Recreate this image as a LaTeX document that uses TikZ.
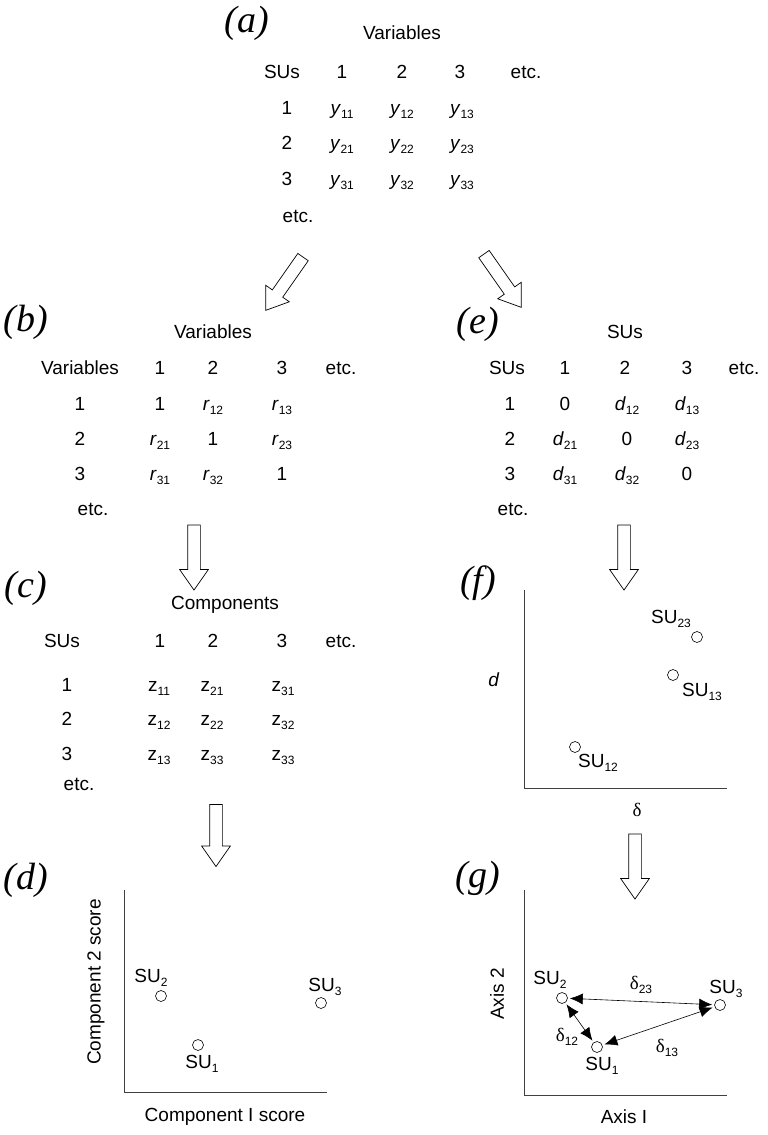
\documentclass[tikz,border=0pt]{standalone}
\usepackage{fontspec}
\setmainfont{Liberation Sans}
\newfontfamily\seriffont{Liberation Serif}
\usetikzlibrary{arrows.meta, positioning, shapes.arrows}

% lowered index and table entries
\newcommand{\sub}[1]{\raisebox{-4pt}{\fontsize{12}{12}\selectfont #1}}
\newcommand{\ent}[2]{\textit{#1}\sub{#2}}
\newcommand{\dl}{{\seriffont δ}}

\begin{document}
\begin{tikzpicture}[
    x=1pt, y=-1pt,
    every node/.style={font=\fontsize{19}{22}\selectfont, inner sep=1pt},
    cell/.style={anchor=base},
    panel/.style={font=\seriffont\itshape\fontsize{38}{40}\selectfont},
    bigarrow/.style={single arrow, draw, line width=0.7pt, fill=white, inner sep=6pt,
        single arrow head extend=8pt, single arrow tip angle=70, minimum height=65pt},
    axis/.style={draw=black!75, line width=0.8pt},
    su/.style={circle, draw, line width=0.6pt, minimum size=11pt, inner sep=0pt},
    dist/.style={{Latex[length=13pt,width=11pt]}-{Latex[length=13pt,width=11pt]},
        line width=0.6pt, shorten <=2pt, shorten >=2pt},
]
\useasboundingbox (0,0) rectangle (768,1135);

% === (a) raw data ===
\node[panel] (lab_a) at (247,23) {(a)};
\node[cell] (a_title) at (402,39) {Variables};
\node[cell] (a_hs) at (282,78) {SUs};
\foreach \c/\x in {1/342, 2/402, 3/460}
    \node[cell] (a_h\c) at (\x,78) {\c};
\node[cell] (a_hx) at (526,78) {etc.};
\foreach \r/\y in {1/114, 2/149, 3/185} {
    \node[cell] (a_r\r) at (287,\y) {\r};
    \foreach \c/\x in {1/342, 2/402, 3/462}
        \node[cell] (a_\r\c) at (\x,\y) {\ent{y}{\r\c}};
}
\node[cell] (a_rx) at (298,222) {etc.};

\node[bigarrow, rotate=-125] (arr_ab) at (287,280) {};
\node[bigarrow, rotate=-55] (arr_ae) at (500,277) {};

% === (b) correlations ===
\node[panel] (lab_b) at (26,322) {(b)};
\node[cell] (b_title) at (213,338) {Variables};
\node[cell] (b_hs) at (80,374) {Variables};
\foreach \c/\x in {1/160, 2/213, 3/282}
    \node[cell] (b_h\c) at (\x,374) {\c};
\node[cell] (b_hx) at (341,374) {etc.};
\foreach \r/\y/\ca/\cb/\cc in {1/410/1/\ent{r}{12}/\ent{r}{13},
                               2/445/\ent{r}{21}/1/\ent{r}{23},
                               3/480/\ent{r}{31}/\ent{r}{32}/1} {
    \node[cell] (b_r\r) at (80,\y) {\r};
    \node[cell] (b_\r1) at (160,\y) {\ca};
    \node[cell] (b_\r2) at (213,\y) {\cb};
    \node[cell] (b_\r3) at (282,\y) {\cc};
}
\node[cell] (b_rx) at (93,515) {etc.};

\node[bigarrow, rotate=-90] (arr_bc) at (194,553) {};

% === (c) component scores ===
\node[panel] (lab_c) at (26,588) {(c)};
\node[cell] (c_title) at (225,609) {Components};
\node[cell] (c_hs) at (62,647) {SUs};
\foreach \c/\x in {1/160, 2/213, 3/282}
    \node[cell] (c_h\c) at (\x,647) {\c};
\node[cell] (c_hx) at (341,647) {etc.};
\foreach \r/\y/\ca/\cb/\cc in {1/691/11/21/31, 2/725/12/22/32, 3/760/13/33/33} {
    \node[cell] (c_r\r) at (67,\y) {\r};
    \node[cell] (c_\r1) at (159,\y) {z\sub{\ca}};
    \node[cell] (c_\r2) at (212,\y) {z\sub{\cb}};
    \node[cell] (c_\r3) at (283,\y) {z\sub{\cc}};
}
\node[cell] (c_rx) at (79,790) {etc.};

\node[bigarrow, rotate=-90, minimum height=62pt] (arr_cd) at (216,831) {};

% === (d) PCA plot ===
\node[panel] (lab_d) at (26,880) {(d)};
\draw[axis] (124,890) |- (327,1092);
\node[su] (d1) at (198,1045) {};
\node[su] (d2) at (161,996) {};
\node[su] (d3) at (321,1003) {};
\node[above=2.5pt of d2, xshift=-10pt] (d2_lab) {SU\sub{2}};
\node[above=0pt of d3, xshift=4pt] (d3_lab) {SU\sub{3}};
\node[below=3.5pt of d1, xshift=4pt] (d1_lab) {SU\sub{1}};
\node[rotate=90] (d_ylab) at (96,982) {Component 2 score};
\node (d_xlab) at (225,1117) {Component I score};

% === (e) distances ===
\node[panel] (lab_e) at (478,324) {(e)};
\node[cell] (e_title) at (625,338) {SUs};
\node[cell] (e_hs) at (507,374) {SUs};
\foreach \c/\x in {1/565, 2/625, 3/687}
    \node[cell] (e_h\c) at (\x,374) {\c};
\node[cell] (e_hx) at (744,374) {etc.};
\foreach \r/\y/\ca/\cb/\cc in {1/410/0/\ent{d}{12}/\ent{d}{13},
                               2/445/\ent{d}{21}/0/\ent{d}{23},
                               3/480/\ent{d}{31}/\ent{d}{32}/0} {
    \node[cell] (e_r\r) at (510,\y) {\r};
    \node[cell] (e_\r1) at (565,\y) {\ca};
    \node[cell] (e_\r2) at (627,\y) {\cb};
    \node[cell] (e_\r3) at (687,\y) {\cc};
}
\node[cell] (e_rx) at (513,515) {etc.};

\node[bigarrow, rotate=-90] (arr_ef) at (624,553) {};

% === (f) Shepard plot ===
\node[panel] (lab_f) at (478,583) {(f)};
\draw[axis] (524,590) |- (727,788);
\node[su] (f23) at (697,637) {};
\node[su] (f13) at (673,675) {};
\node[su] (f12) at (575,747) {};
\node[above=2pt of f23, xshift=-26pt] (f23_lab) {SU\sub{23}};
\node[below=1.5pt of f13, xshift=29pt] (f13_lab) {SU\sub{13}};
\node[below=0.5pt of f12, xshift=23pt] (f12_lab) {SU\sub{12}};
\node (f_ylab) at (494,680) {\textit{d}};
\node (f_xlab) at (637,810) {\dl};

\node[bigarrow, rotate=-90] (arr_fg) at (635,862) {};

% === (g) ordination ===
\node[panel] (lab_g) at (478,878) {(g)};
\draw[axis] (524,890) |- (727,1095);
\node[su] (g1) at (597,1047) {};
\node[su] (g2) at (562,998) {};
\node[su] (g3) at (720,1005) {};
\node[above=3pt of g2, xshift=-12pt] (g2_lab) {SU\sub{2}};
\node[above=0pt of g3, xshift=6pt] (g3_lab) {SU\sub{3}};
\node[below=3pt of g1, xshift=5pt] (g1_lab) {SU\sub{1}};

\draw[dist] (g2) -- node[above=7pt] (g23_lab) {\dl\sub{23}} (g3);
\draw[dist] (g2) -- (g1);
\draw[dist] (g1) -- (g3);
\node (g12_lab) at (567,1037) {\dl\sub{12}};
\node (g13_lab) at (667,1048) {\dl\sub{13}};

\node[rotate=90] (g_ylab) at (497,994) {Axis 2};
\node (g_xlab) at (624,1117) {Axis I};

\end{tikzpicture}
\end{document}
